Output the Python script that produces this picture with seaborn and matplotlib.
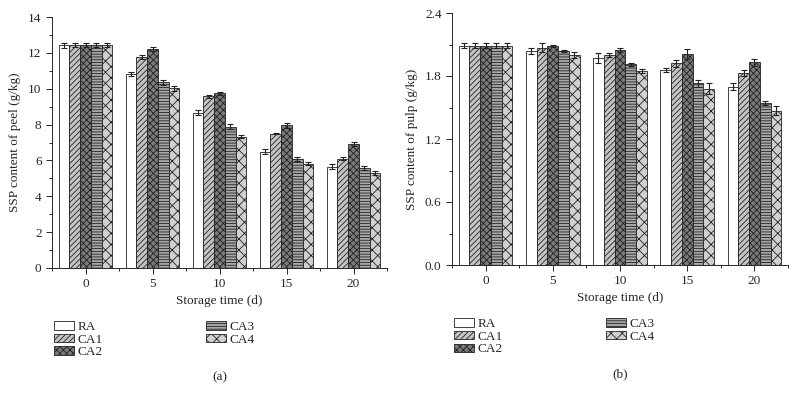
import pandas as pd
import seaborn as sns
import numpy as np
import matplotlib.pyplot as plt
from matplotlib.ticker import MultipleLocator

# Data
days = ['0', '5', '10', '15', '20']
groups = ['RA', 'CA1', 'CA2', 'CA3', 'CA4']

peel = {
    'RA':  [12.42, 10.82, 8.66, 6.49, 5.66],
    'CA1': [12.42, 11.76, 9.57, 7.50, 6.10],
    'CA2': [12.42, 12.20, 9.74, 7.95, 6.92],
    'CA3': [12.42, 10.36, 7.89, 6.08, 5.58],
    'CA4': [12.42, 10.02, 7.33, 5.82, 5.30],
}
peel_err = {
    'RA':  [0.15, 0.10, 0.15, 0.12, 0.12],
    'CA1': [0.12, 0.10, 0.10, 0.05, 0.10],
    'CA2': [0.12, 0.12, 0.08, 0.12, 0.12],
    'CA3': [0.12, 0.15, 0.12, 0.12, 0.12],
    'CA4': [0.12, 0.15, 0.10, 0.10, 0.10],
}
pulp = {
    'RA':  [2.09, 2.04, 1.97, 1.86, 1.70],
    'CA1': [2.09, 2.07, 2.00, 1.92, 1.83],
    'CA2': [2.09, 2.09, 2.05, 2.01, 1.93],
    'CA3': [2.09, 2.04, 1.91, 1.73, 1.54],
    'CA4': [2.09, 2.00, 1.85, 1.68, 1.47],
}
pulp_err = {
    'RA':  [0.02, 0.03, 0.05, 0.02, 0.03],
    'CA1': [0.02, 0.04, 0.02, 0.03, 0.03],
    'CA2': [0.02, 0.01, 0.02, 0.05, 0.03],
    'CA3': [0.02, 0.01, 0.01, 0.03, 0.02],
    'CA4': [0.02, 0.03, 0.02, 0.05, 0.04],
}

faces = {'RA': 'white', 'CA1': '#c4c4c4', 'CA2': '#7a7a7a', 'CA3': '#a8a8a8', 'CA4': '#d0d0d0'}
hatches = {'RA': '', 'CA1': '//////', 'CA2': 'xxxxx', 'CA3': '------', 'CA4': 'xxx'}

sns.set_style('ticks')
plt.rcParams['font.family'] = ['Liberation Serif', 'DejaVu Serif']
plt.rcParams['hatch.linewidth'] = 0.6
plt.rcParams['hatch.color'] = '#222222'


def to_long(vals):
    rows = []
    for g in groups:
        for d, v in zip(days, vals[g]):
            rows.append({'day': d, 'group': g, 'value': v})
    return pd.DataFrame(rows)


def draw(ax, vals, errs, ymax, major, minor, ylabel, tag):
    df = to_long(vals)
    sns.barplot(data=df, x='day', y='value', hue='group', order=days,
                hue_order=groups, errorbar=None, width=0.8, ax=ax,
                edgecolor='#222222', linewidth=0.6, legend=False)
    for g, cont in zip(groups, ax.containers):
        xs = []
        for p in cont.patches:
            p.set_facecolor(faces[g])
            p.set_hatch(hatches[g])
            xs.append(p.get_x() + p.get_width() / 2)
        ax.errorbar(xs, vals[g], yerr=errs[g], fmt='none', ecolor='#222222',
                    elinewidth=0.8, capsize=2.5, capthick=0.8)
    ax.set_xlim(-0.5, 4.5)
    ax.set_ylim(0, ymax)
    ax.yaxis.set_major_locator(MultipleLocator(major))
    ax.yaxis.set_minor_locator(MultipleLocator(minor))
    ax.set_xticks(np.arange(5), minor=False)
    ax.set_xticks(np.arange(-0.5, 5, 1), minor=True)
    ax.tick_params(which='both', direction='out', labelsize=9.5, width=0.7)
    ax.tick_params(which='major', length=4)
    ax.tick_params(which='minor', length=2.5)
    ax.set_xlabel('Storage time (d)', fontsize=9.5, labelpad=3)
    ax.set_ylabel(ylabel, fontsize=9.5, labelpad=5)
    for s in ['top', 'right']:
        ax.spines[s].set_visible(False)
    for s in ['left', 'bottom']:
        ax.spines[s].set_linewidth(0.7)

    handles = [plt.Rectangle((0, 0), 1, 1, facecolor=faces[g], hatch=hatches[g],
                             edgecolor='#222222', linewidth=0.6) for g in groups]
    ax.legend(handles, groups, ncol=2, loc='upper left', bbox_to_anchor=(-0.01, -0.19),
              frameon=False, fontsize=9.5, handlelength=1.5, handleheight=0.6,
              handletextpad=0.3, labelspacing=0.05, columnspacing=7.8,
              borderaxespad=0)
    ax.text(0.5, -0.41, tag, transform=ax.transAxes, ha='center', va='top', fontsize=9.5)


fig = plt.figure(figsize=(7.97, 3.99), dpi=100)
ax1 = fig.add_axes([52 / 797, 131 / 399, 335 / 797, 251 / 399])
ax2 = fig.add_axes([452 / 797, 134 / 399, 336 / 797, 252 / 399])

draw(ax1, peel, peel_err, 14, 2, 1, 'SSP content of peel (g/kg)', '(a)')
draw(ax2, pulp, pulp_err, 2.4, 0.6, 0.3, 'SSP content of pulp (g/kg)', '(b)')
ax2.yaxis.set_major_formatter(plt.FormatStrFormatter('%.1f'))

fig.savefig('out.png', dpi=100)
